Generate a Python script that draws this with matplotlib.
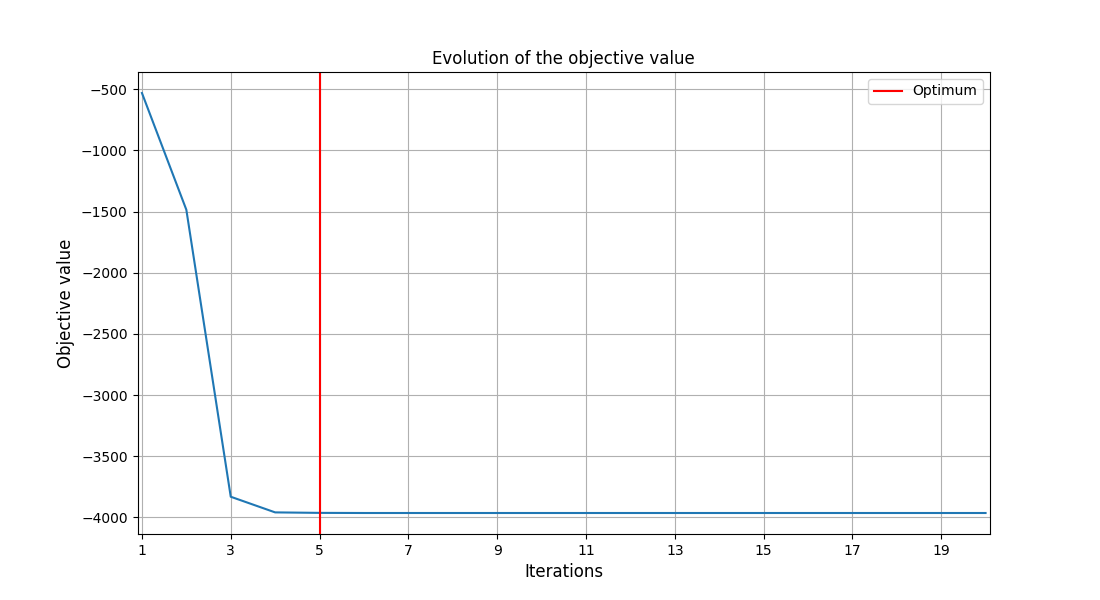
import matplotlib
matplotlib.use("Agg")
import matplotlib.pyplot as plt

iterations = list(range(1, 21))
objective_values = [-530, -1485, -3832, -3960, -3964] + [-3965] * 15
optimum_iteration = 5
tick_positions = list(range(1, 20, 2))


def show_objective_chart():
    """
    in: None
    out: None
    """
    plt.figure(figsize=(11, 6), dpi=100)

    plt.plot(iterations, objective_values)
    plt.axvline(optimum_iteration, color="red", label="Optimum")

    plt.title("Evolution of the objective value")
    plt.xlabel("Iterations", fontsize=12)
    plt.ylabel("Objective value", fontsize=12)
    plt.xticks(tick_positions)
    plt.xlim(0.9, 20.1)
    plt.grid(True)
    plt.legend(loc="upper right")

    plt.savefig("out.png", dpi=100)


if __name__ == "__main__":
    show_objective_chart()
